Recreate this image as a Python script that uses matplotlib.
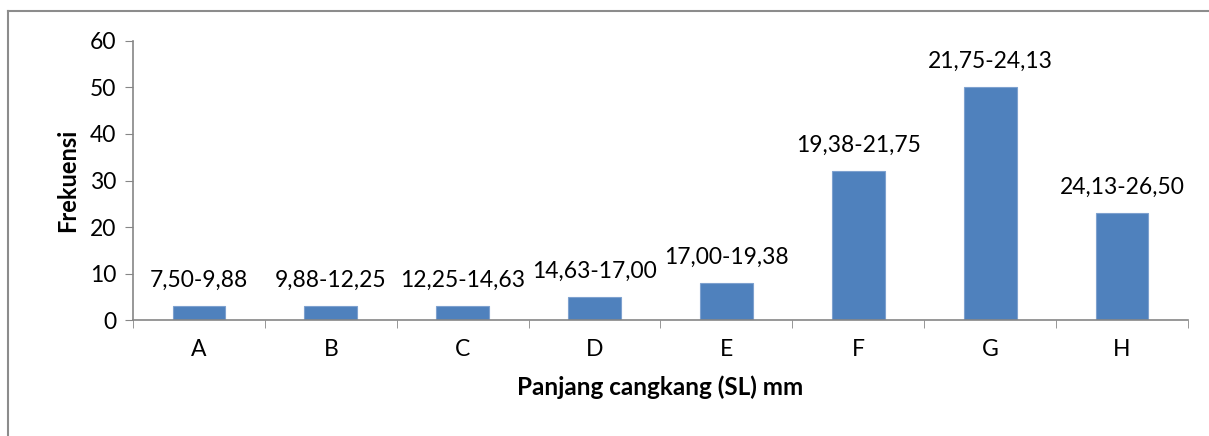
import numpy as np
import matplotlib
matplotlib.use("Agg")
import matplotlib.pyplot as plt
from matplotlib.lines import Line2D

plt.rcParams['font.family'] = ['Lato', 'DejaVu Sans']

categories = ["A", "B", "C", "D", "E", "F", "G", "H"]
frekuensi = [3, 3, 3, 5, 8, 32, 50, 23]
ranges = ["7,50-9,88", "9,88-12,25", "12,25-14,63", "14,63-17,00",
          "17,00-19,38", "19,38-21,75", "21,75-24,13", "24,13-26,50"]

fig = plt.figure(figsize=(12.09, 4.36), dpi=100)
ax = fig.add_axes([0.110, 0.266, 0.8726, 0.640])

x = np.arange(len(categories))
bars = ax.bar(x, frekuensi, width=0.4, color="#4F81BD", edgecolor="#7EA1CF", linewidth=0.8)

for xi, v, lab in zip(x, frekuensi, ranges):
    ax.annotate(lab, (xi, v), xytext=(0, 11), textcoords="offset points",
                ha="center", va="bottom", fontsize=16.5)

ax.set_xlim(-0.5, len(categories) - 0.5)
ax.set_ylim(0, 60)
ax.set_yticks(range(0, 61, 10))
ax.set_xticks(x)
ax.set_xticklabels(categories)
ax.set_xticks(np.arange(-0.5, len(categories), 1), minor=True)
ax.tick_params(axis="x", which="major", length=0, pad=14, labelsize=16.5)
ax.tick_params(axis="x", which="minor", length=6, color="#868686", direction="out")
ax.tick_params(axis="y", length=6, color="#868686", labelsize=16.5, pad=6)

for s in ["top", "right"]:
    ax.spines[s].set_visible(False)
for s in ["left", "bottom"]:
    ax.spines[s].set_color("#868686")
    ax.spines[s].set_linewidth(1.2)

ax.set_xlabel("Panjang cangkang (SL) mm", fontsize=17.5, fontweight="bold", labelpad=11)
ax.set_ylabel("Frekuensi", fontsize=17, fontweight="bold", labelpad=8)

# chart border (only top and left visible in the original)
fig.add_artist(Line2D([8 / 1209, 1], [1 - 11 / 436, 1 - 11 / 436], color="#8c8c8c", lw=1.5, transform=fig.transFigure))
fig.add_artist(Line2D([8 / 1209, 8 / 1209], [0, 1 - 11 / 436], color="#8c8c8c", lw=1.5, transform=fig.transFigure))

fig.savefig("out.png", dpi=100)
